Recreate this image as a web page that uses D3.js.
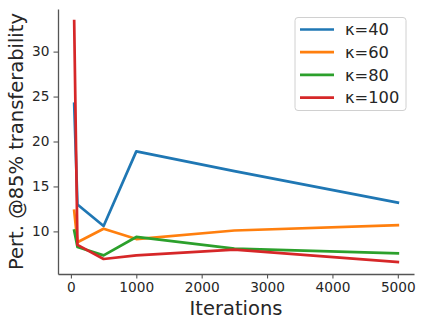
<!DOCTYPE html>
<html>
<head>
<meta charset="utf-8">
<script src="https://cdn.jsdelivr.net/npm/d3@7"></script>
<style>
  body { margin: 0; background: #fff; }
  text { font-family: "DejaVu Sans", sans-serif; fill: #262626; }
</style>
</head>
<body>
<div id="chart"></div>
<script>
// Iterations on the x axis
const iterations = [50, 100, 500, 1000, 2500, 5000];

// one series per kappa
const kappas = ["κ=40", "κ=60", "κ=80", "κ=100"];
const kappa40 = [24.2, 13.0, 10.6, 18.9, 16.7, 13.2];
const kappa60 = [12.3, 8.8, 10.3, 9.15, 10.1, 10.7];
const kappa80 = [10.1, 8.27, 7.33, 9.38, 8.08, 7.56];
const kappa100 = [33.4, 8.5, 6.93, 7.33, 7.97, 6.6];

const xTicks = [0, 1000, 2000, 3000, 4000, 5000];
const yTicks = [10, 15, 20, 25, 30];

const colors = ["#1f77b4", "#ff7f0e", "#2ca02c", "#d62728"];
const series = [kappa40, kappa60, kappa80, kappa100];

const width = 423, height = 327;
const margin = {left: 58, right: 9, top: 9, bottom: 53};

const svg = d3.select('#chart')
  .append('svg')
  .attr('width', width)
  .attr('height', height);

// matplotlib-style 5% padding on the data range
const xMin = d3.min(iterations), xMax = d3.max(iterations);
const xPad = (xMax - xMin) * 0.05;
const allY = series.flat();
const yMin = d3.min(allY), yMax = d3.max(allY);
const yPad = (yMax - yMin) * 0.05;

const x = d3.scaleLinear()
  .domain([xMin - xPad, xMax + xPad])
  .range([margin.left, width - margin.right]);

const y = d3.scaleLinear()
  .domain([yMin - yPad, yMax + yPad])
  .range([height - margin.bottom, margin.top]);

// axes
const xAxis = svg.append('g')
  .attr('transform', `translate(0,${height - margin.bottom})`)
  .call(d3.axisBottom(x).tickValues(xTicks).tickFormat(d3.format('d'))
    .tickSize(4.5).tickPadding(4).tickSizeOuter(0));

const yAxis = svg.append('g')
  .attr('transform', `translate(${margin.left},0)`)
  .call(d3.axisLeft(y).tickValues(yTicks).tickFormat(d3.format('d'))
    .tickSize(4.5).tickPadding(4).tickSizeOuter(0));

[xAxis, yAxis].forEach(a => {
  a.select('.domain').attr('stroke', '#555').attr('stroke-width', 1.3);
  a.selectAll('.tick line').attr('stroke', '#555').attr('stroke-width', 1.1);
  a.selectAll('.tick text')
    .style('font-family', '"DejaVu Sans", sans-serif')
    .style('font-size', '13.7px')
    .attr('fill', '#262626');
});

// lines
const line = d3.line()
  .x((d, i) => x(iterations[i]))
  .y(d => y(d));

series.forEach((s, k) => {
  svg.append('path')
    .datum(s)
    .attr('fill', 'none')
    .attr('stroke', colors[k])
    .attr('stroke-width', 2.7)
    .attr('stroke-linejoin', 'round')
    .attr('stroke-linecap', 'square')
    .attr('d', line);
});

// axis labels
svg.append('text')
  .attr('x', (margin.left + width - margin.right) / 2)
  .attr('y', 315)
  .attr('text-anchor', 'middle')
  .style('font-size', '19.5px')
  .text('Iterations');

svg.append('text')
  .attr('transform', `translate(23,${(margin.top + height - margin.bottom) / 2}) rotate(-90)`)
  .attr('text-anchor', 'middle')
  .style('font-size', '19.5px')
  .text('Pert. @85% transferability');

// legend
const legend = svg.append('g');
legend.append('rect')
  .attr('x', 295).attr('y', 17.5)
  .attr('width', 111).attr('height', 93)
  .attr('rx', 3)
  .attr('fill', '#fff').attr('fill-opacity', 0.8)
  .attr('stroke', '#d0d0d0');

kappas.forEach((lab, k) => {
  const ly = 29.5 + k * 22.7;
  legend.append('line')
    .attr('x1', 300).attr('x2', 334)
    .attr('y1', ly).attr('y2', ly)
    .attr('stroke', colors[k]).attr('stroke-width', 2.7);
  legend.append('text')
    .attr('x', 345).attr('y', ly + 5.8)
    .style('font-size', '16.3px')
    .text(lab);
});
</script>
</body>
</html>
